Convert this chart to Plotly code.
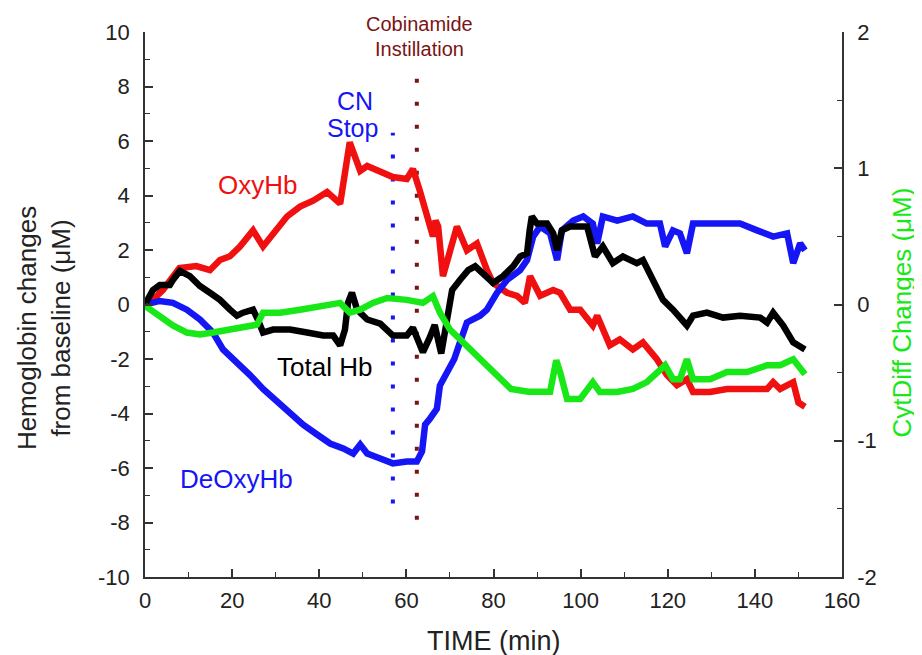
import plotly.graph_objects as go

# ---------------- data ----------------
oxy_t = [0, 2, 4.1, 6, 7.9, 11.8, 14.9, 17.2, 19.5, 21.8, 24.8, 27.1, 30.3, 32.6, 35.6, 38.6,
         41.8, 44.8, 47.0, 49.4, 51.0, 54.0, 56.9, 60.1, 61.5, 63.1, 65.4, 66.1, 66.7, 67.3,
         68.4, 71.6, 73.9, 76.2, 78.5, 79.9, 83.1, 85.4, 87.2, 88.4, 90.7, 93.7, 95.3, 97.6,
         99.9, 102.8, 103.8, 105.1, 106.7, 109.0, 112.0, 114.3, 117.5, 119.8, 122.1, 124.4,
         125.8, 129.7, 133.6, 138.2, 142.8, 144.2, 145.8, 148.8, 150.0, 151.5]
oxy_v = [0, 0.2, 0.53, 0.9, 1.34, 1.41, 1.26, 1.63, 1.77, 2.13, 2.72, 2.13, 2.72, 3.23, 3.59, 3.81,
         4.13, 3.70, 5.95, 4.90, 5.08, 4.90, 4.68, 4.61, 4.97, 4.17, 2.97, 2.50, 3.08, 2.86,
         1.04, 2.86, 1.99, 2.24, 1.26, 0.79, 0.43, 0.32, 0.06, 1.04, 0.32, 0.53, 0.43, -0.19,
         -0.19, -0.77, -0.41, -0.92, -1.50, -1.28, -1.65, -1.39, -2.01, -2.59, -2.96, -2.74,
         -3.21, -3.21, -3.10, -3.10, -3.10, -2.85, -3.10, -2.85, -3.60, -3.75]

total_t = [0, 1.8, 3.4, 5.7, 6.4, 8.0, 10.3, 12.6, 14.9, 17.2, 19.5, 21.1, 22.5, 24.8, 25.9, 27.1,
           29.4, 33.3, 37.2, 40.9, 43.2, 44.8, 45.9, 46.6, 47.5, 48.7, 51.0, 54.0, 56.9, 60.1,
           61.5, 63.1, 63.8, 65.4, 66.5, 68.0, 69.3, 70.5, 72.3, 74.2, 75.8, 77.6, 79.9, 82.2,
           84.5, 86.1, 87.7, 88.3, 88.8, 90.0, 92.3, 93.7, 94.6, 95.7, 97.6, 101.5, 103.3, 105.1,
           107.4, 109.7, 112.9, 114.3, 116.6, 118.9, 121.2, 124.4, 125.8, 129.0, 132.7, 136.6,
           141.2, 142.8, 144.2, 146.5, 148.8, 151.5]
total_v = [0, 0.53, 0.72, 0.72, 0.90, 1.23, 1.04, 0.68, 0.43, 0.17, -0.19, -0.41, -0.30, -0.19,
           -0.55, -1.03, -0.92, -0.92, -1.03, -1.14, -1.14, -1.50, -0.92, 0.06, 0.43, -0.19,
           -0.55, -0.70, -1.14, -1.14, -0.85, -1.50, -1.75, -1.20, -0.75, -1.80, -0.55, 0.53,
           0.90, 1.26, 1.40, 1.15, 0.79, 1.04, 1.40, 1.76, 1.88, 2.72, 3.23, 2.97, 2.97, 2.61,
           1.99, 2.72, 2.86, 2.86, 1.76, 2.13, 1.52, 1.76, 1.52, 1.63, 0.90, 0.17, -0.19, -0.77,
           -0.41, -0.30, -0.48, -0.41, -0.48, -0.66, -0.30, -0.77, -1.39, -1.65]

deoxy_t = [0, 3.4, 6.4, 9.6, 12.6, 15.6, 17.9, 21.1, 24.1, 27.1, 30.3, 33.3, 36.3, 39.5, 42.5,
           45.5, 47.8, 49.4, 51.0, 54.0, 56.9, 60.1, 62.4, 63.6, 64.3, 65.4, 67.0, 67.7, 69.5,
           71.0, 72.3, 73.9, 76.9, 78.5, 80.8, 83.1, 86.1, 87.7, 89.1, 90.7, 93.0, 94.6, 95.7,
           98.3, 100.6, 102.8, 103.8, 105.1, 108.4, 112.0, 115.2, 118.2, 119.4, 121.2, 122.8,
           124.4, 125.8, 129.7, 132.7, 136.6, 140.5, 144.2, 147.4, 148.8, 150.4, 151.5]
deoxy_v = [0, 0.13, 0.06, -0.19, -0.55, -1.03, -1.65, -2.12, -2.59, -3.10, -3.57, -4.05, -4.41,
           -4.77, -5.10, -5.28, -5.47, -5.14, -5.47, -5.65, -5.83, -5.76, -5.76, -5.39, -4.41,
           -4.19, -3.83, -2.97, -2.40, -2.00, -1.39, -0.66, -0.41, -0.19, 0.43, 0.90, 1.26,
           1.63, 2.49, 2.86, 2.61, 1.63, 2.72, 3.08, 3.23, 2.97, 2.24, 3.23, 3.08, 3.23, 2.97,
           2.97, 2.13, 2.72, 2.61, 1.88, 2.97, 2.97, 2.97, 2.97, 2.72, 2.49, 2.61, 1.52, 2.24,
           1.99]

cyt_t = [0.0, 3.4, 6.4, 9.6, 12.6, 15.6, 19.5, 23.4, 25.7, 27.1, 31.0, 35.6, 40.2, 44.8, 47.0,
         49.4, 52.3, 55.6, 60.1, 63.8, 66.1, 67.7, 70.0, 72.3, 74.6, 77.0, 79.2, 81.5, 84.0,
         88.0, 93.0, 94.4, 95.3, 96.9, 99.9, 102.8, 104.4, 108.4, 112.0, 115.2, 117.5, 119.4,
         121.2, 122.8, 124.4, 125.8, 129.7, 133.6, 138.2, 142.8, 145.8, 148.8, 151.5]
cyt_v = [-0.01, -0.082, -0.154, -0.206, -0.22, -0.206, -0.184, -0.17, -0.148, -0.06, -0.06,
         -0.038, -0.01, 0.012, -0.06, -0.038, 0.012, 0.048, 0.034, 0.012, 0.062, -0.06, -0.184,
         -0.256, -0.33, -0.39, -0.46, -0.54, -0.62, -0.64, -0.64, -0.41, -0.496, -0.694, -0.694,
         -0.57, -0.642, -0.642, -0.62, -0.57, -0.496, -0.446, -0.548, -0.548, -0.402, -0.548,
         -0.548, -0.496, -0.496, -0.446, -0.446, -0.402, -0.512]

cn_stop_time = [56.9, 56.9]
cn_stop_span = [-7.3, 6.3]
cobinamide_time = [62.4, 62.4]
cobinamide_span = [-7.9, 8.5]

x_ticks = [0, 20, 40, 60, 80, 100, 120, 140, 160]
x_labels = ["0", "20", "40", "60", "80", "100", "120", "140", "160"]
y_ticks = [-10, -8, -6, -4, -2, 0, 2, 4, 6, 8, 10]
y_labels = ["-10", "-8", "-6", "-4", "-2", "0", "2", "4", "6", "8", "10"]
y2_ticks = [-2, -1, 0, 1, 2]
y2_labels = ["-2", "-1", "0", "1", "2"]

RED = "#f01010"
BLUE = "#1515f5"
GREEN = "#18e818"
BLACK = "#000000"
DARKRED = "#7a1414"
FONT = "Liberation Sans, Arial, sans-serif"
AX = "#333333"
TXT = "#222222"

fig = go.Figure()
fig.add_trace(go.Scatter(x=cn_stop_time, y=cn_stop_span, mode="lines",
                         line=dict(color=BLUE, width=4, dash="4px,19px"), showlegend=False))
fig.add_trace(go.Scatter(x=cobinamide_time, y=cobinamide_span, mode="lines",
                         line=dict(color=DARKRED, width=4, dash="4px,19px"), showlegend=False))
fig.add_trace(go.Scatter(x=cyt_t, y=cyt_v, mode="lines", yaxis="y2",
                         line=dict(color=GREEN, width=6.5), showlegend=False))
fig.add_trace(go.Scatter(x=oxy_t, y=oxy_v, mode="lines",
                         line=dict(color=RED, width=6.5), showlegend=False))
fig.add_trace(go.Scatter(x=deoxy_t, y=deoxy_v, mode="lines",
                         line=dict(color=BLUE, width=6.5), showlegend=False))
fig.add_trace(go.Scatter(x=total_t, y=total_v, mode="lines",
                         line=dict(color=BLACK, width=6.5), showlegend=False))

tickfont = dict(family=FONT, size=22, color=TXT)
common = dict(showgrid=False, zeroline=False, showline=True, linecolor=AX, linewidth=1.5,
              ticks="inside", ticklen=8, tickwidth=1.5, tickcolor=AX, tickfont=tickfont)
fig.update_layout(
    width=922, height=655,
    margin=dict(l=137, r=88, t=19, b=86),
    paper_bgcolor="white", plot_bgcolor="white",
    font=dict(family=FONT),
    xaxis=dict(range=[0, 160], tickvals=x_ticks, ticktext=x_labels, ticklabelstandoff=3,
               minor=dict(dtick=10, ticks="inside", ticklen=5, tickcolor=AX, tickwidth=1.2,
                          showgrid=False), **common),
    yaxis=dict(range=[-10, 10], tickvals=y_ticks, ticktext=y_labels, ticklabelstandoff=9,
               minor=dict(dtick=1, ticks="inside", ticklen=5, tickcolor=AX, tickwidth=1.2,
                          showgrid=False), **common),
    yaxis2=dict(range=[-2, 2], tickvals=y2_ticks, ticktext=y2_labels, overlaying="y",
                side="right", ticklabelstandoff=9,
                minor=dict(dtick=0.5, ticks="inside", ticklen=5, tickcolor=AX, tickwidth=1.2,
                           showgrid=False), **common),
)

ann = []
ann.append(dict(text="Hemoglobin changes<br>from baseline (μM)", xref="paper", yref="paper",
                x=-0.144, y=0.456, xanchor="center", yanchor="middle", textangle=-90,
                showarrow=False, font=dict(family=FONT, size=26, color=TXT)))
ann.append(dict(text="CytDiff Changes (μM)", xref="paper", yref="paper",
                x=1.086, y=0.485, xanchor="center", yanchor="middle", textangle=-90,
                showarrow=False, font=dict(family=FONT, size=26, color=GREEN)))
ann.append(dict(text="TIME (min)", xref="paper", yref="paper", x=0.5, y=-0.117,
                xanchor="center", yanchor="middle", showarrow=False,
                font=dict(family=FONT, size=27, color=TXT)))
ann.append(dict(text="OxyHb", x=25.9, y=4.4, showarrow=False,
                font=dict(family=FONT, size=26, color=RED)))
ann.append(dict(text="Total Hb", x=41.3, y=-2.3, showarrow=False,
                font=dict(family=FONT, size=26, color=BLACK)))
ann.append(dict(text="DeOxyHb", x=20.9, y=-6.4, showarrow=False,
                font=dict(family=FONT, size=26, color=BLUE)))
ann.append(dict(text="CN", x=48.2, y=7.45, showarrow=False,
                font=dict(family=FONT, size=25, color=BLUE)))
ann.append(dict(text="Stop", x=47.6, y=6.48, showarrow=False,
                font=dict(family=FONT, size=25, color=BLUE)))
ann.append(dict(text="Cobinamide", x=63.1, xref="x", y=1.014, yref="paper",
                yanchor="middle", showarrow=False,
                font=dict(family=FONT, size=20, color=DARKRED)))
ann.append(dict(text="Instillation", x=63.1, xref="x", y=0.968, yref="paper",
                yanchor="middle", showarrow=False,
                font=dict(family=FONT, size=20, color=DARKRED)))
fig.update_layout(annotations=ann)

fig.write_html("out.html")
